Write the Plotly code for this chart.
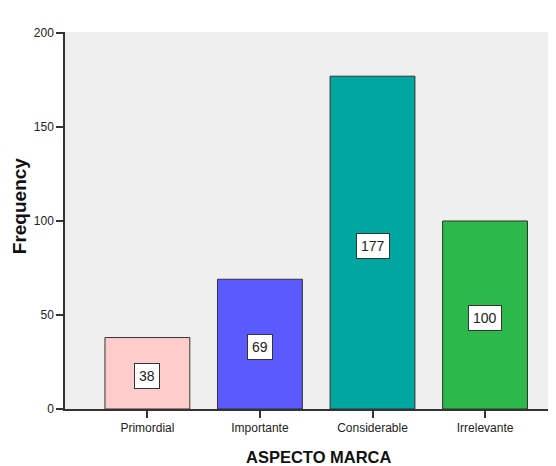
import plotly.graph_objects as go

categories = ["Primordial", "Importante", "Considerable", "Irrelevante"]
frequencies = [38, 69, 177, 100]
bar_colors = ["#FFCCCC", "#5A5AFF", "#00A6A0", "#2DB84B"]
y_ticks = [0, 50, 100, 150, 200]
x_title = "ASPECTO MARCA"
y_title = "Frequency"

fig = go.Figure()
fig.add_trace(go.Bar(
    x=categories, y=frequencies, width=0.754,
    marker=dict(color=bar_colors, line=dict(color="#333333", width=1)),
    hoverinfo="x+y",
))

for c, v in zip(categories, frequencies):
    fig.add_annotation(
        x=c, y=v / 2, yshift=-3, text=str(v), showarrow=False,
        font=dict(family="Liberation Sans, Arial", size=14, color="#222222"),
        bgcolor="white", bordercolor="#333333", borderwidth=1, borderpad=4,
    )

# axis titles (placed as annotations to match the original offsets)
fig.add_annotation(
    xref="paper", yref="paper", x=0.5227, y=-0.127, xanchor="center", yanchor="middle",
    text="<b>" + x_title + "</b>", showarrow=False,
    font=dict(family="Liberation Sans, Arial", size=16.5, color="#111111"),
)
fig.add_annotation(
    xref="paper", yref="paper", x=-0.0948, y=0.538, xanchor="center", yanchor="middle",
    text="<b>" + y_title + "</b>", showarrow=False, textangle=-90,
    font=dict(family="Liberation Sans, Arial", size=19, color="#111111"),
)

fig.update_layout(
    width=548, height=458,
    margin=dict(l=57, r=6, t=24, b=57),
    paper_bgcolor="white", plot_bgcolor="#EFEFEF",
    showlegend=False,
    font=dict(family="Liberation Sans, Arial", size=12, color="#222222"),
    bargap=0.25,
)
fig.update_xaxes(
    automargin=False,
    range=[-0.732, 3.577], showgrid=False, zeroline=False,
    showline=True, linecolor="#333333", linewidth=1.5,
    ticks="outside", ticklen=7, tickcolor="#333333", tickwidth=1.5,
    tickfont=dict(size=12),
)
fig.update_yaxes(
    automargin=False,
    range=[0, 200.5], tickvals=y_ticks, showgrid=False, zeroline=False,
    showline=True, linecolor="#333333", linewidth=1.5,
    ticks="outside", ticklen=7, tickcolor="#333333", tickwidth=1.5,
    tickfont=dict(size=12),
)

fig.write_html("out.html")
